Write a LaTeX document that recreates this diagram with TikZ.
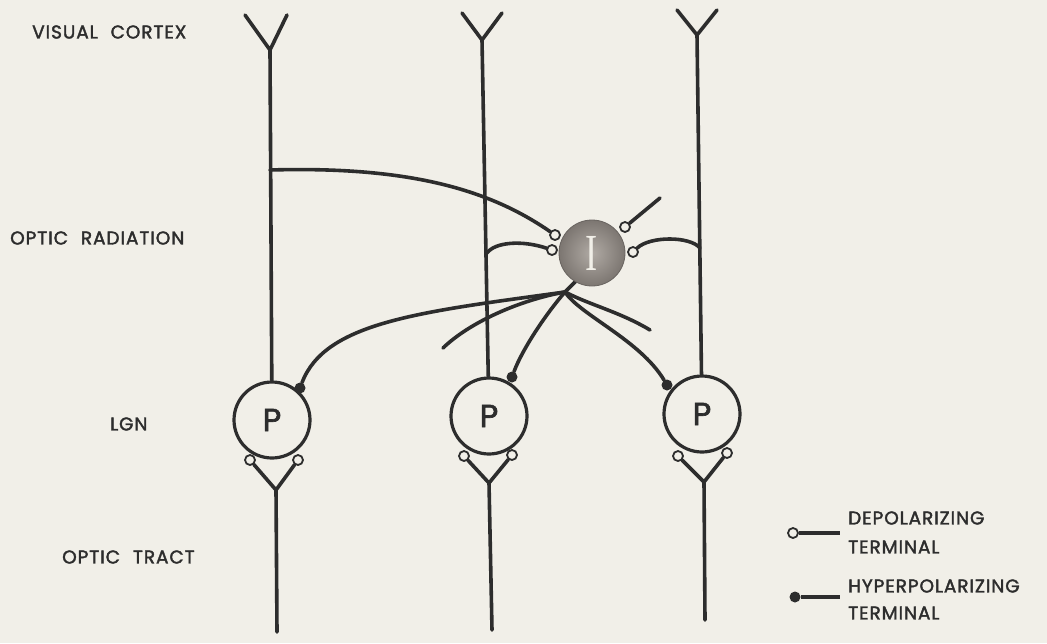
\documentclass[tikz,border=0pt]{standalone}
\usepackage{fontspec}
\setmainfont{Poppins}[LetterSpace=5,FakeBold=2]
\usetikzlibrary{calc}
\definecolor{paper}{RGB}{241,239,232}
\definecolor{ink}{RGB}{45,45,45}
\definecolor{ballin}{RGB}{176,170,164}
\definecolor{ballout}{RGB}{124,118,113}
\pgfdeclarelayer{bg}
\pgfsetlayers{bg,main}
\begin{document}
\begin{tikzpicture}[x=1pt,y=-1pt,
  axon/.style={draw=ink,line width=3.6pt,line cap=round,line join=round},
  cell/.style={circle,draw=ink,line width=3.2pt,minimum size=76pt,inner sep=0pt,
    font=\fontsize{32}{32}\selectfont,text=ink},
  dep/.style={circle,draw=ink,fill=paper,line width=1.8pt,minimum size=10pt,inner sep=0pt},
  hyp/.style={circle,fill=ink,minimum size=11pt,inner sep=0pt},
  lab/.style={font=\fontsize{18.5}{18.5}\selectfont,text=ink,anchor=west,inner sep=0pt},
]
\begin{pgfonlayer}{bg}
\fill[paper] (0,0) rectangle (1047,643);
\end{pgfonlayer}
\useasboundingbox (0,0) rectangle (1047,643);

% labels
\node[lab] (vc) at (32,32) {VISUAL\hspace{0.7em}CORTEX};
\node[lab] (or) at (10,238) {OPTIC\hspace{0.7em}RADIATION};
\node[lab] (lgn) at (110,424) {LGN};
\node[lab] (ot) at (62,557) {OPTIC\hspace{0.7em}TRACT};

% cells
\node[cell] (P1) at (272,420) {P};
\node[cell] (P2) at (489,416) {P};
\node[cell] (P3) at (702,414) {P};
\node[circle,minimum size=66pt,inner sep=0pt,draw=ballout!85!black,line width=0.8pt,
  shading=radial,inner color=ballin,outer color=ballout] (I) at (592,253) {};
\node[text=paper,font=\fontsize{52}{52}\selectfont,xscale=0.7,inner sep=0pt] (Ilab) at (I) {\fontspec{Liberation Serif}I};

% dendrites at the top
\coordinate (c1l) at (245,15); \coordinate (c1r) at (287,15); \coordinate (c1v) at (270,50);
\coordinate (c2l) at (462,13); \coordinate (c2r) at (502,13); \coordinate (c2v) at (482,40);
\coordinate (c3l) at (677,10); \coordinate (c3r) at (717,10); \coordinate (c3v) at (697,35);

% optic tract inputs
\node[dep] (d1l) at (250,460) {}; \node[dep] (d1r) at (298,460) {};
\node[dep] (d2l) at (464,456) {}; \node[dep] (d2r) at (512,455) {};
\node[dep] (d3l) at (678,456) {}; \node[dep] (d3r) at (727,453) {};
\coordinate (v1) at (276,490); \coordinate (b1) at (277,632);
\coordinate (v2) at (489,483); \coordinate (b2) at (492,630);
\coordinate (v3) at (704,482); \coordinate (b3) at (705,620);

% terminals around I
\node[dep] (tA) at (555,235) {};
\node[dep] (tB) at (552,250) {};
\node[dep] (tC) at (625,227) {};
\node[dep] (tD) at (633,252) {};
\coordinate (eC) at (660,198);
\coordinate (a1) at (270,170);
\coordinate (a2) at (487,253);
\coordinate (a3) at (700,248);

% I axon and branches
\coordinate (Iax) at (578,279);
\coordinate (br) at (565,292);
\node[hyp] (h1) at (300,388) {};
\node[hyp] (h2) at (512,377) {};
\node[hyp] (h3) at (667,385) {};
\coordinate (sB) at (443,348);
\coordinate (sD) at (650,330);

% legend
\node[dep] (ldep) at (793,533) {};
\node[hyp] (lhyp) at (795,597) {};
\coordinate (ldepe) at (840,533);
\coordinate (lhype) at (840,597);
\node[lab] (t1) at (848,518) {DEPOLARIZING};
\node[lab] (t2) at (848,547) {TERMINAL};
\node[lab] (t3) at (848,586) {HYPERPOLARIZING};
\node[lab] (t4) at (848,613) {TERMINAL};

\begin{pgfonlayer}{bg}
  \draw[axon] (c1l) -- (c1v) -- (c1r);
  \draw[axon] (c2l) -- (c2v) -- (c2r);
  \draw[axon] (c3l) -- (c3v) -- (c3r);
  \draw[axon] (c1v) -- (P1);
  \draw[axon] (c2v) -- (P2);
  \draw[axon] (c3v) -- (P3);
  \draw[axon] (d1l) -- (v1) -- (d1r); \draw[axon] (v1) -- (b1);
  \draw[axon] (d2l) -- (v2) -- (d2r); \draw[axon] (v2) -- (b2);
  \draw[axon] (d3l) -- (v3) -- (d3r); \draw[axon] (v3) -- (b3);
  % collaterals onto I
  \draw[axon] (a1) .. controls (410,166) and (490,190) .. (tA);
  \draw[axon] (a2) .. controls (495,242) and (522,240) .. (tB);
  \draw[axon] (eC) -- (tC);
  \draw[axon] (a3) .. controls (690,236) and (650,236) .. (tD);
  % I axon
  \draw[axon] (Iax) -- (br);
  \draw[axon] (br) .. controls (420,312) and (325,322) .. (h1);
  \draw[axon] (br) .. controls (520,300) and (470,322) .. (sB);
  \draw[axon] (br) .. controls (545,315) and (522,350) .. (h2);
  \draw[axon] (br) .. controls (590,305) and (620,312) .. (sD);
  \draw[axon] (br) .. controls (580,315) and (640,340) .. (h3);
  % legend lines
  \draw[axon,line cap=butt] (ldep) -- (ldepe);
  \draw[axon,line cap=butt] (lhyp) -- (lhype);
\end{pgfonlayer}
\end{tikzpicture}
\end{document}
